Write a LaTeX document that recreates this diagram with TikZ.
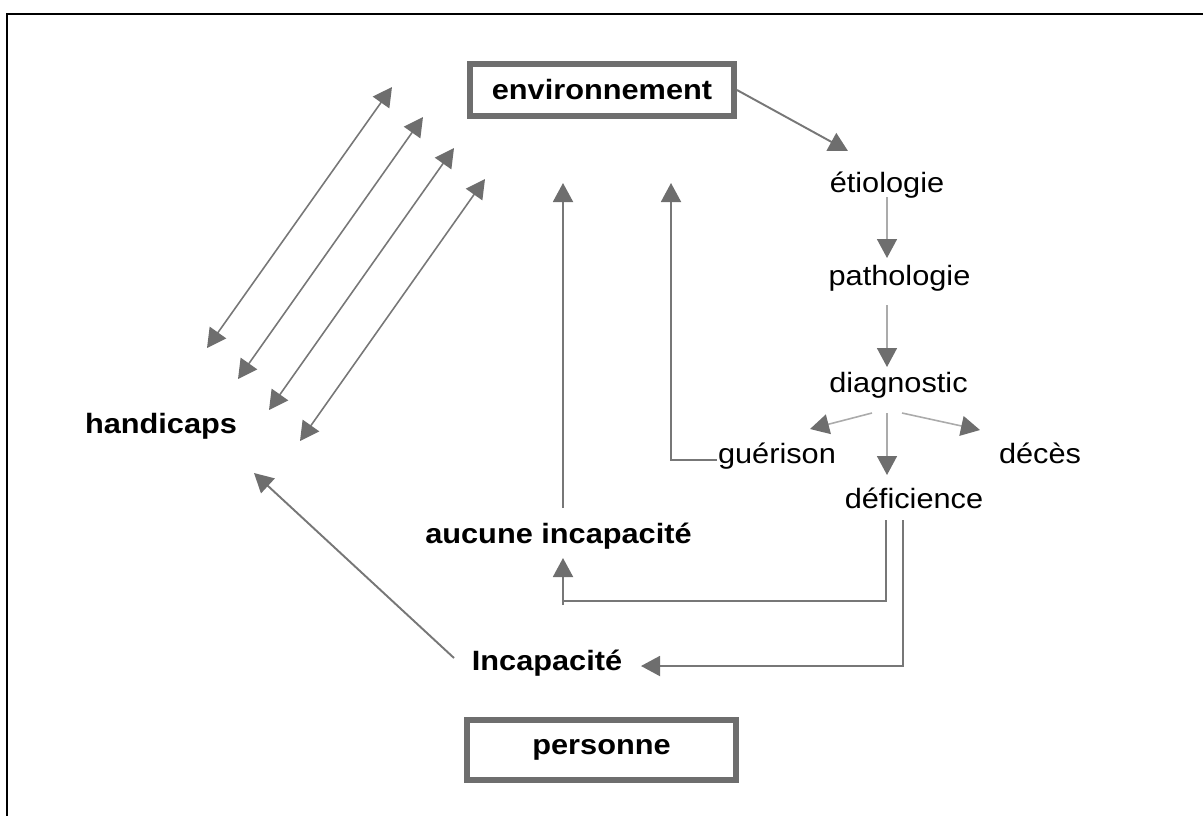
\documentclass[tikz,border=0pt]{standalone}
\usepackage{fontspec}
\setmainfont{Liberation Sans}[FakeStretch=1.1]
\usetikzlibrary{arrows.meta}
\definecolor{boxgray}{HTML}{6E6E6E}
\definecolor{linegray}{HTML}{777777}
\definecolor{lightgray}{HTML}{ABABAB}
\tikzset{
  lbl/.style={inner sep=0pt, anchor=base, font=\fontsize{15.9}{19}\selectfont},
  blbl/.style={lbl, font=\fontsize{15.9}{19}\selectfont\bfseries},
  framebox/.style={draw=boxgray, line width=3.4pt, inner sep=0pt,
    font=\fontsize{15.9}{19}\selectfont\bfseries},
  conn/.style={draw=linegray, line width=1.1pt,
    -{Triangle[length=0.38cm,width=0.4cm,color=boxgray]}},
  plain/.style={draw=linegray, line width=1.1pt},
  soft/.style={draw=lightgray, line width=0.9pt,
    -{Triangle[length=0.38cm,width=0.4cm,color=boxgray]}},
  both/.style={draw=linegray, line width=0.9pt,
    {Triangle[length=0.38cm,width=0.4cm,color=boxgray]}-{Triangle[length=0.38cm,width=0.4cm,color=boxgray]}},
}
\begin{document}
\begin{tikzpicture}[x=0.02cm,y=-0.02cm]
\useasboundingbox (0,0) rectangle (1203,816);
% frame (top and left edges)
\draw[line width=1.2pt] (1203,14) -- (7,14) -- (7,816);

% boxes
\node[framebox, minimum width=5.28cm, minimum height=1.04cm] (env) at (602,90) {environnement};
\node[framebox, minimum width=5.38cm, minimum height=1.2cm] (pers) at (601.5,750) {personne};

% labels
\node[lbl]  (etio)   at (887,192)   {étiologie};
\node[lbl]  (patho)  at (899.5,285) {pathologie};
\node[lbl]  (diag)   at (898.5,392) {diagnostic};
\node[lbl]  (guer)   at (777,463)   {guérison};
\node[lbl]  (deces)  at (1040,463)  {décès};
\node[lbl]  (defi)   at (914,508)   {déficience};
\node[blbl] (aucune) at (558.5,543) {aucune incapacité};
\node[blbl] (incap)  at (547,670)   {Incapacité};
\node[blbl] (handi)  at (161,433)   {handicaps};

% connector end points
\coordinate (etioIn) at (848,151);
\coordinate (etioOut) at (887,197);
\coordinate (pathoIn) at (887,258);
\coordinate (pathoOut) at (887,305);
\coordinate (diagIn) at (887,367);
\coordinate (diagL) at (872,413);
\coordinate (diagM) at (887,413);
\coordinate (diagR) at (902,413);
\coordinate (guerIn) at (810,429);
\coordinate (decesIn) at (980,430);
\coordinate (defiIn) at (887,475);
\coordinate (defiA) at (886,520);
\coordinate (defiB) at (903,520);
\coordinate (aucIn) at (563,558);
\coordinate (aucBase) at (563,605);
\coordinate (incIn) at (641,666);
\coordinate (aucOut) at (563,508);
\coordinate (upA) at (563,183);
\coordinate (guerOut) at (717,460);
\coordinate (upB) at (671,183);
\coordinate (incOut) at (454,658);
\coordinate (handIn) at (254,473);
\coordinate (h1a) at (207,348); \coordinate (h1b) at (392,87);
\coordinate (h2a) at (238,379); \coordinate (h2b) at (423,117);
\coordinate (h3a) at (269,410); \coordinate (h3b) at (454,148);
\coordinate (h4a) at (300,441); \coordinate (h4b) at (485,179);

% causal chain
\draw[conn] (env.east) -- (etioIn);
\draw[soft] (etioOut) -- (pathoIn);
\draw[soft] (pathoOut) -- (diagIn);
\draw[soft] (diagL) -- (guerIn);
\draw[soft] (diagR) -- (decesIn);
\draw[soft] (diagM) -- (defiIn);

% consequences of the impairment
\draw[plain] (defiA) |- (aucBase |- 0,601) -- (aucBase);
\draw[conn] (aucBase) -- (aucIn);
\draw[conn] (defiB) |- (incIn);
\draw[conn] (aucOut) -- (upA);
\draw[conn] (guerOut) -| (upB);
\draw[conn] (incOut) -- (handIn);

% handicaps <-> environment
\draw[both] (h1a) -- (h1b);
\draw[both] (h2a) -- (h2b);
\draw[both] (h3a) -- (h3b);
\draw[both] (h4a) -- (h4b);
\end{tikzpicture}
\end{document}
